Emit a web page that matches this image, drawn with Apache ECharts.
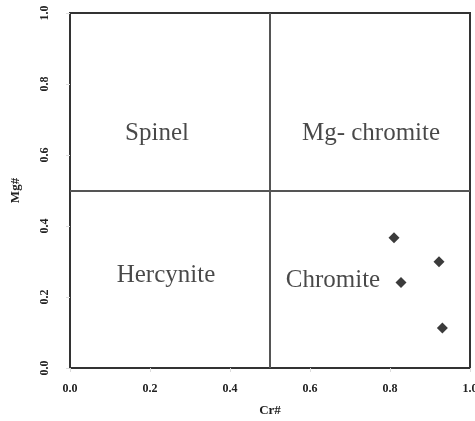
<!DOCTYPE html>
<html>
<head>
<meta charset="utf-8">
<script src="https://cdn.jsdelivr.net/npm/echarts@6/dist/echarts.min.js"></script>
<style>html,body{margin:0;padding:0;background:#fff;overflow:hidden;}#c{width:475px;height:421px;}</style>
</head>
<body>
<div id="c"></div>
<script>
var crNumber = [0.81, 0.9225, 0.8275, 0.931];
var mgNumber = [0.367, 0.299, 0.241, 0.113];
var fieldNames = ['Spinel', 'Mg- chromite', 'Hercynite', 'Chromite'];
var fieldX = [0.2175, 0.7525, 0.24, 0.6575];
var fieldY = [0.661, 0.661, 0.262, 0.248];
var tickLabels = ['0.0', '0.2', '0.4', '0.6', '0.8', '1.0'];
var boundary = 0.5;

var chart = echarts.init(document.getElementById('c'));
var pts = crNumber.map(function (v, i) { return [v, mgNumber[i]]; });
var fields = fieldNames.map(function (n, i) { return { name: n, value: [fieldX[i], fieldY[i]] }; });
var serif = '"Liberation Serif", "DejaVu Serif", serif';
chart.setOption({
  animation: false,
  backgroundColor: '#fff',
  grid: { left: 70, right: 5, top: 13, bottom: 53, outerBoundsMode: 'none', containLabel: false,
    show: true, borderColor: '#333', borderWidth: 2, backgroundColor: 'transparent' },
  xAxis: {
    type: 'value', min: 0, max: 1, interval: 0.2,
    name: 'Cr#', nameLocation: 'middle', nameGap: 36,
    nameTextStyle: { fontFamily: serif, fontWeight: 'bold', fontSize: 13, color: '#222' },
    axisLine: { show: false },
    axisTick: { show: true, length: 4, lineStyle: { color: '#ddd' } },
    splitLine: { show: false },
    axisLabel: { margin: 15, fontFamily: serif, fontWeight: 'bold', fontSize: 12, color: '#222',
      formatter: function (v) { return tickLabels[Math.round(v / 0.2)]; } }
  },
  yAxis: {
    type: 'value', min: 0, max: 1, interval: 0.2,
    name: 'Mg#', nameLocation: 'middle', nameGap: 48,
    nameTextStyle: { fontFamily: serif, fontWeight: 'bold', fontSize: 13, color: '#222' },
    axisLine: { show: false },
    axisTick: { show: true, length: 4, lineStyle: { color: '#ddd' } },
    splitLine: { show: false },
    axisLabel: { margin: 19, rotate: 90, fontFamily: serif, fontWeight: 'bold', fontSize: 12, color: '#222',
      formatter: function (v) { return tickLabels[Math.round(v / 0.2)]; } }
  },
  series: [
    {
      type: 'scatter', data: fields, symbolSize: 0, silent: true,
      label: { show: true, position: 'inside', formatter: '{b}', fontFamily: serif, fontSize: 25, color: '#1a1a1a' },
      markLine: {
        silent: true, symbol: 'none', label: { show: false },
        lineStyle: { color: '#555', width: 2, type: 'solid' },
        data: [{ xAxis: boundary }, { yAxis: boundary }]
      }
    },
    {
      type: 'scatter', data: pts, symbol: 'diamond', symbolSize: 11,
      itemStyle: { color: '#0a0a0a' }
    }
  ]
});
</script>
</body>
</html>
